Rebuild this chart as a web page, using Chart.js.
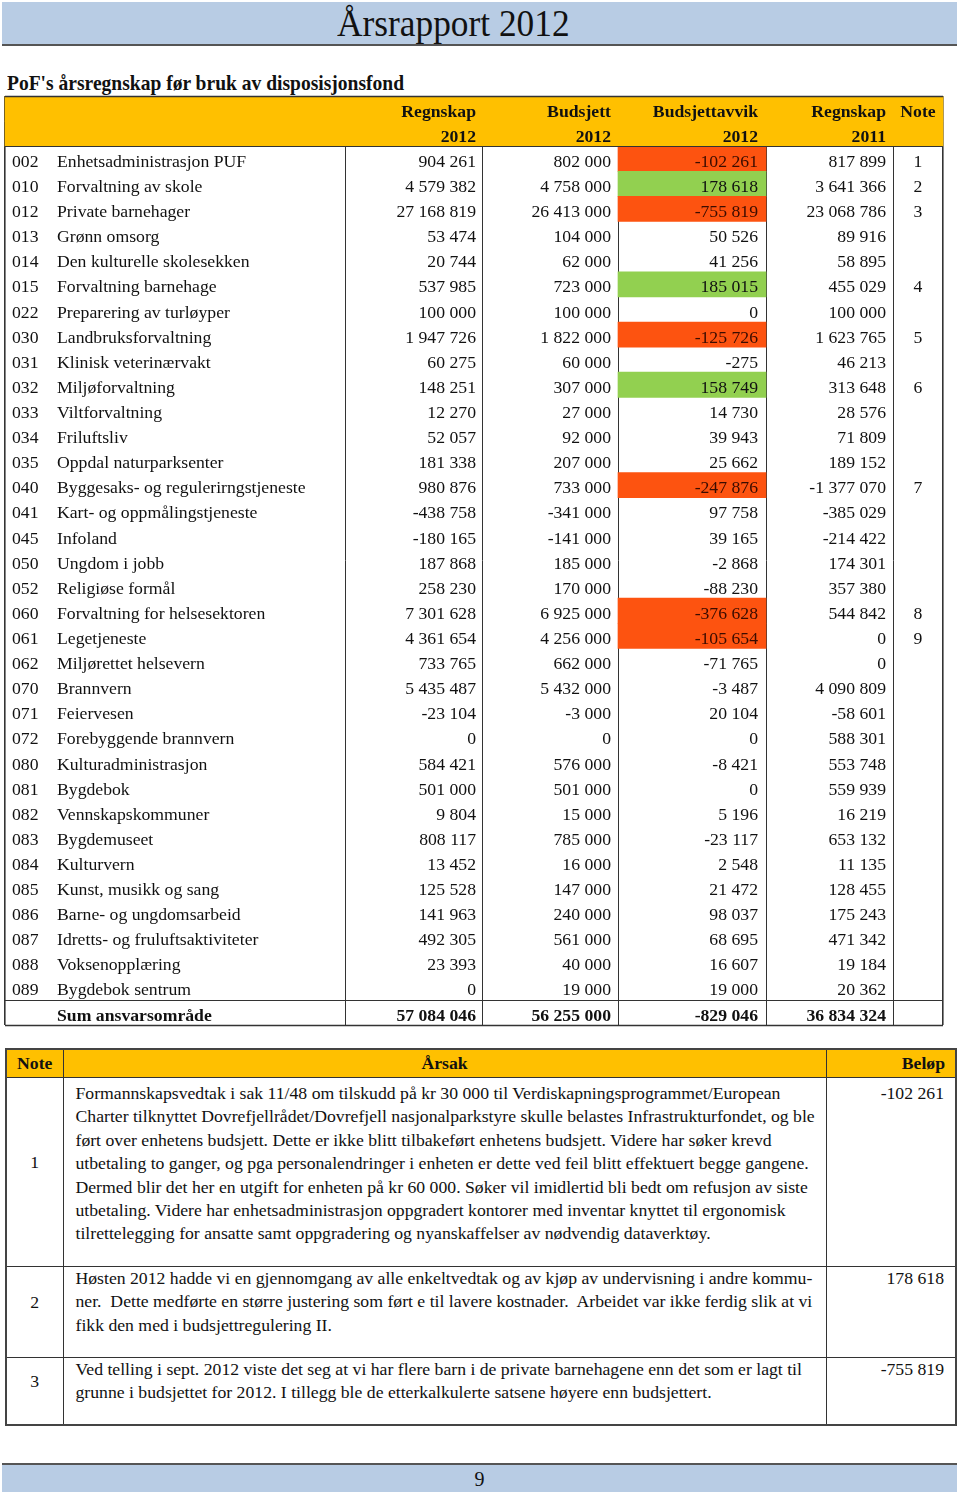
<!DOCTYPE html>
<html lang="no">
<head>
<meta charset="utf-8">
<title>Årsrapport 2012</title>
<script src="https://cdn.jsdelivr.net/npm/chart.js@4.4.1/dist/chart.umd.min.js"></script>
<style>
  body { margin: 0; background: #fff; font-family: "Liberation Serif", "Times New Roman", serif; color: #111; }
  #page { position: relative; width: 960px; height: 1496px; overflow: hidden; }
  .band { position: absolute; left: 2px; width: 955px; background: #b8cce4; }
  #topBand { top: 2px; height: 42px; border-bottom: 2px solid #555; }
  #footBand { top: 1463px; height: 27px; border-top: 2px solid #555; text-align: center; font-size: 20px; line-height: 29px; }
  #title { position: absolute; left: 337px; top: 2px; font-size: 38px; line-height: 42px; white-space: nowrap;
           transform: scaleX(0.93); transform-origin: left top; }
  #subtitle { position: absolute; left: 7px; top: 71px; font-size: 21px; line-height: 25px; font-weight: bold; white-space: nowrap;
              transform: scaleX(0.93); transform-origin: left top; }
  #tableCanvas { position: absolute; left: 0; top: 94px; }
  #notes { position: absolute; left: 5px; top: 1048px; width: 950px; border-collapse: collapse; font-size: 17.7px;
           border: 2px solid #444; table-layout: fixed; }
  #notes th, #notes td { border: 1px solid #333; padding: 0; }
  #notes th { background: #ffc000; height: 27px; font-weight: bold; }
  #notes td { vertical-align: top; line-height: 23.4px; }
  #notes td.num { text-align: center; vertical-align: middle; padding-bottom: 18px; }
  #notes td.txt { padding: 4px 0 0 12px; white-space: nowrap; }
  #notes td.amt { text-align: right; padding: 4px 11px 0 0; }
  #notes tr.tight td.txt, #notes tr.tight td.amt { padding-top: 0; }
</style>
</head>
<body>
<div id="page">
  <div id="topBand" class="band"></div>
  <div id="title">Årsrapport 2012</div>
  <div id="subtitle">PoF's årsregnskap før bruk av disposisjonsfond</div>

  <canvas id="tableCanvas" width="960" height="933"></canvas>

  <table id="notes">
    <colgroup><col style="width:57px"><col style="width:763px"><col style="width:130px"></colgroup>
    <tr><th style="text-align:center">Note</th><th style="text-align:center">Årsak</th><th style="text-align:right;padding-right:10px">Beløp</th></tr>
    <tr style="height:189px">
      <td class="num">1</td>
      <td class="txt">Formannskapsvedtak i sak 11/48 om tilskudd på kr 30 000 til Verdiskapningsprogrammet/European<br>Charter tilknyttet Dovrefjellrådet/Dovrefjell nasjonalparkstyre skulle belastes Infrastrukturfondet, og ble<br>ført over enhetens budsjett. Dette er ikke blitt tilbakeført enhetens budsjett. Videre har søker krevd<br>utbetaling to ganger, og pga personalendringer i enheten er dette ved feil blitt effektuert begge gangene.<br>Dermed blir det her en utgift for enheten på kr 60 000. Søker vil imidlertid bli bedt om refusjon av siste<br>utbetaling. Videre har enhetsadministrasjon oppgradert kontorer med inventar knyttet til ergonomisk<br>tilrettelegging for ansatte samt oppgradering og nyanskaffelser av nødvendig dataverktøy.</td>
      <td class="amt"></td>
    </tr>
    <tr class="tight" style="height:91px">
      <td class="num">2</td>
      <td class="txt">Høsten 2012 hadde vi en gjennomgang av alle enkeltvedtak og av kjøp av undervisning i andre kommu-<br>ner.&nbsp; Dette medførte en større justering som ført e til lavere kostnader.&nbsp; Arbeidet var ikke ferdig slik at vi<br>fikk den med i budsjettregulering II.</td>
      <td class="amt"></td>
    </tr>
    <tr class="tight" style="height:67px">
      <td class="num">3</td>
      <td class="txt">Ved telling i sept. 2012 viste det seg at vi har flere barn i de private barnehagene enn det som er lagt til<br>grunne i budsjettet for 2012. I tillegg ble de etterkalkulerte satsene høyere enn budsjettert.</td>
      <td class="amt"></td>
    </tr>
  </table>

  <div id="footBand" class="band">9</div>
</div>

<script>
// ansvarsområder
const codes = ["002", "010", "012", "013", "014", "015", "022", "030", "031", "032", "033", "034",
  "035", "040", "041", "045", "050", "052", "060", "061", "062", "070", "071", "072",
  "080", "081", "082", "083", "084", "085", "086", "087", "088", "089"];
const units = ["Enhetsadministrasjon PUF", "Forvaltning av skole", "Private barnehager", "Grønn omsorg",
  "Den kulturelle skolesekken", "Forvaltning barnehage", "Preparering av turløyper", "Landbruksforvaltning",
  "Klinisk veterinærvakt", "Miljøforvaltning", "Viltforvaltning", "Friluftsliv", "Oppdal naturparksenter",
  "Byggesaks- og regulerirngstjeneste", "Kart- og oppmålingstjeneste", "Infoland", "Ungdom i jobb",
  "Religiøse formål", "Forvaltning for helsesektoren", "Legetjeneste", "Miljørettet helsevern", "Brannvern",
  "Feiervesen", "Forebyggende brannvern", "Kulturadministrasjon", "Bygdebok", "Vennskapskommuner",
  "Bygdemuseet", "Kulturvern", "Kunst, musikk og sang", "Barne- og ungdomsarbeid",
  "Idretts- og fruluftsaktiviteter", "Voksenopplæring", "Bygdebok sentrum"];
const regnskap2012 = [904261, 4579382, 27168819, 53474, 20744, 537985, 100000, 1947726, 60275, 148251,
  12270, 52057, 181338, 980876, -438758, -180165, 187868, 258230, 7301628, 4361654, 733765, 5435487,
  -23104, 0, 584421, 501000, 9804, 808117, 13452, 125528, 141963, 492305, 23393, 0];
const budsjett2012 = [802000, 4758000, 26413000, 104000, 62000, 723000, 100000, 1822000, 60000, 307000,
  27000, 92000, 207000, 733000, -341000, -141000, 185000, 170000, 6925000, 4256000, 662000, 5432000,
  -3000, 0, 576000, 501000, 15000, 785000, 16000, 147000, 240000, 561000, 40000, 19000];
const avvik2012 = [-102261, 178618, -755819, 50526, 41256, 185015, 0, -125726, -275, 158749,
  14730, 39943, 25662, -247876, 97758, 39165, -2868, -88230, -376628, -105654, -71765, -3487,
  20104, 0, -8421, 0, 5196, -23117, 2548, 21472, 98037, 68695, 16607, 19000];
const regnskap2011 = [817899, 3641366, 23068786, 89916, 58895, 455029, 100000, 1623765, 46213, 313648,
  28576, 71809, 189152, -1377070, -385029, -214422, 174301, 357380, 544842, 0, 0, 4090809,
  -58601, 588301, 553748, 559939, 16219, 653132, 11135, 128455, 175243, 471342, 19184, 20362];
const noteRefs = ["1", "2", "3", "", "", "4", "", "5", "", "6", "", "", "", "7", "", "", "", "",
  "8", "9", "", "", "", "", "", "", "", "", "", "", "", "", "", ""];
const sumValues = [57084046, 56255000, -829046, 36834324];
const headTop = ["Regnskap", "Budsjett", "Budsjettavvik", "Regnskap", "Note"];
const headBottom = ["2012", "2012", "2012", "2011"];
const noteAmounts = [-102261, 178618, -755819];

// layout (pixels along the x scale)
const COL_LINES = [5, 345, 482, 618, 766, 893, 943];
const NUM_RIGHT = [476, 611, 758, 886];
const AVVIK_LIMIT = 100000;
const FONT = "17.7px 'Liberation Serif'";

const fmt = n => (n < 0 ? "-" : "") + Math.abs(n).toString().replace(/\B(?=(\d{3})+(?!\d))/g, " ");

document.querySelectorAll("#notes td.amt").forEach((td, i) => { td.textContent = fmt(noteAmounts[i]); });

const rowKeys = ["h1", "h2", ...codes, "sum"];
const DATA0 = 2;
const SUM_ROW = rowKeys.length - 1;

const headerBars = rowKeys.map((k, i) => i < DATA0 ? [COL_LINES[0], COL_LINES[6]] : null);
const avvikBars = rowKeys.map((k, i) => {
  const v = avvik2012[i - DATA0];
  return v !== undefined && Math.abs(v) > AVVIK_LIMIT ? [COL_LINES[3], COL_LINES[4]] : null;
});
const avvikColors = rowKeys.map((k, i) => {
  const v = avvik2012[i - DATA0];
  return v < 0 ? "#fd5310" : "#92d050";
});

const tableText = {
  id: "tableText",
  afterDatasetsDraw(chart) {
    const { ctx, scales: { x, y } } = chart;
    const cy = i => y.getPixelForValue(i) + 3.5;
    const noteX = x.getPixelForValue((COL_LINES[5] + COL_LINES[6]) / 2);
    ctx.save();
    ctx.textBaseline = "middle";
    ctx.fillStyle = "#111";

    // header
    ctx.font = "bold " + FONT;
    ctx.textAlign = "right";
    headTop.slice(0, 4).forEach((t, c) => ctx.fillText(t, x.getPixelForValue(NUM_RIGHT[c]), cy(0)));
    headBottom.forEach((t, c) => ctx.fillText(t, x.getPixelForValue(NUM_RIGHT[c]), cy(1)));
    ctx.textAlign = "center";
    ctx.fillText(headTop[4], noteX, cy(0));

    // rows
    ctx.font = FONT;
    codes.forEach((code, r) => {
      const row = r + DATA0;
      ctx.fillStyle = "#111";
      ctx.textAlign = "left";
      ctx.fillText(code, x.getPixelForValue(12), cy(row));
      ctx.fillText(units[r], x.getPixelForValue(57), cy(row));
      ctx.textAlign = "right";
      [regnskap2012[r], budsjett2012[r], avvik2012[r], regnskap2011[r]].forEach((v, c) => {
        ctx.fillStyle = (c === 2 && v < -AVVIK_LIMIT) ? "#3a0c00" : "#111";
        ctx.fillText(fmt(v), x.getPixelForValue(NUM_RIGHT[c]), cy(row));
      });
      ctx.fillStyle = "#111";
      ctx.textAlign = "center";
      ctx.fillText(noteRefs[r], noteX, cy(row));
    });

    // sum
    ctx.font = "bold " + FONT;
    ctx.textAlign = "left";
    ctx.fillText("Sum ansvarsområde", x.getPixelForValue(57), cy(SUM_ROW));
    ctx.textAlign = "right";
    sumValues.forEach((v, c) => ctx.fillText(fmt(v), x.getPixelForValue(NUM_RIGHT[c]), cy(SUM_ROW)));

    // horizontal rules
    const edge = i => (y.getPixelForValue(i) + y.getPixelForValue(i + 1)) / 2;
    const half = (y.getPixelForValue(1) - y.getPixelForValue(0)) / 2;
    const x0 = x.getPixelForValue(COL_LINES[0]), x1 = x.getPixelForValue(COL_LINES[6]);
    ctx.strokeStyle = "#333";
    [[y.getPixelForValue(0) - half, 1.6], [edge(DATA0 - 1), 1], [edge(SUM_ROW - 1), 1],
     [y.getPixelForValue(SUM_ROW) + half, 1.6]].forEach(([py, w]) => {
      ctx.lineWidth = w;
      ctx.beginPath();
      ctx.moveTo(x0, Math.round(py) + 0.5);
      ctx.lineTo(x1, Math.round(py) + 0.5);
      ctx.stroke();
    });
    ctx.restore();
  }
};

new Chart(document.getElementById("tableCanvas").getContext("2d"), {
  type: "bar",
  data: {
    labels: rowKeys,
    datasets: [
      { label: "header", data: headerBars, backgroundColor: "#ffc000", grouped: false,
        barPercentage: 1, categoryPercentage: 1, borderWidth: 0 },
      { label: "avvik", data: avvikBars, backgroundColor: avvikColors, grouped: false,
        barPercentage: 1, categoryPercentage: 1, borderWidth: 0 }
    ]
  },
  options: {
    indexAxis: "y",
    responsive: false,
    animation: false,
    layout: { padding: { top: 2, bottom: 2, left: 0, right: 0 } },
    scales: {
      x: {
        type: "linear", min: 0, max: 960,
        afterBuildTicks: s => { s.ticks = COL_LINES.map(v => ({ value: v })); },
        afterFit: s => { s.height = 0; },
        ticks: { display: false },
        border: { display: false },
        grid: {
          drawTicks: false, color: "#333",
          lineWidth: c => (c.index === 0 || c.index === COL_LINES.length - 1) ? 1.6 : 1
        }
      },
      y: { type: "category", display: false, offset: true }
    },
    plugins: { legend: { display: false }, tooltip: { enabled: false } }
  },
  plugins: [tableText]
});
</script>
</body>
</html>
